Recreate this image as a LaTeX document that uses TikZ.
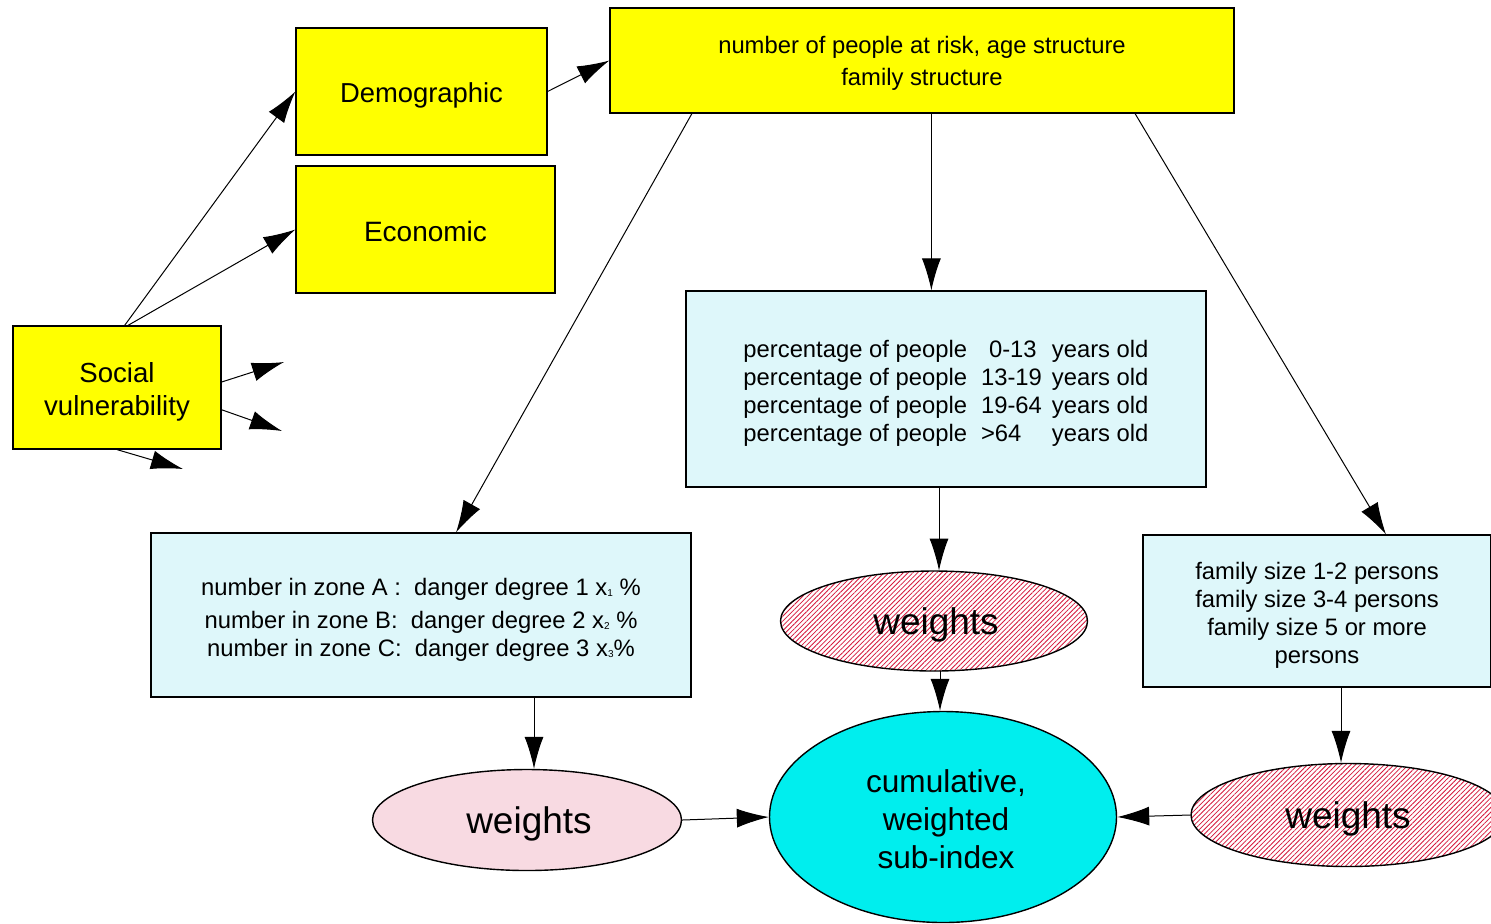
\documentclass[tikz,border=0pt]{standalone}
\usepackage{fontspec}
\setmainfont{Liberation Sans}
\usetikzlibrary{arrows.meta,shapes.geometric,patterns.meta}
\definecolor{boxyellow}{RGB}{255,255,0}
\definecolor{paleblue}{RGB}{222,247,250}
\definecolor{palepink}{RGB}{248,218,226}
\definecolor{hatchred}{RGB}{214,24,60}
\definecolor{aqua}{RGB}{0,238,238}
\newcommand{\sub}[1]{\raisebox{-0.6pt}{\fontsize{5}{5}\selectfont #1}}

\begin{document}
\begin{tikzpicture}[x=0.5pt,y=-0.5pt,
  ybox/.style={rectangle,draw,line width=0.6pt,fill=boxyellow,inner sep=0pt},
  bbox/.style={rectangle,draw,line width=0.6pt,fill=paleblue,inner sep=0pt},
  wt/.style={ellipse,draw,line width=0.7pt,inner sep=0pt},
  hatched/.style={wt,pattern={Lines[angle=45,distance=1.7pt,line width=0.4pt]},pattern color=hatchred},
  lbl/.style={align=center,inner sep=0pt},
  small/.style={lbl,font=\fontsize{11.9}{14}\selectfont},
  wlbl/.style={lbl,font=\fontsize{18.5}{22}\selectfont},
  arr/.style={-{Latex[length=16pt,width=9.5pt]},line width=0.5pt}
]
\fill[white] (0,0) rectangle (1491,923);
\useasboundingbox (0,0) rectangle (1491,923);

% yellow category boxes
\node[ybox,minimum width=125.5pt,minimum height=63.5pt] (demo) at (421.5,91.5) {};
\node[lbl,font=\fontsize{13.7}{16}\selectfont] (demo-t) at ([yshift=-2pt]demo.center) {Demographic};
\node[ybox,minimum width=129.5pt,minimum height=63.5pt] (econ) at (425.5,229.5) {};
\node[lbl,font=\fontsize{14}{16}\selectfont] (econ-t) at ([yshift=-1pt]econ.center) {Economic};
\node[ybox,minimum width=104pt,minimum height=61.5pt] (social) at (117,387.5) {};
\node[lbl,font=\fontsize{13.8}{16.5}\selectfont] (social-t) at ([yshift=-2pt]social.center)
  {Social\\vulnerability};
\node[ybox,minimum width=312pt,minimum height=52.5pt] (top) at (922,60.5) {};
\node[lbl,font=\fontsize{11.9}{16}\selectfont] (top-t) at ([yshift=-1.5pt]top.center)
  {number of people at risk, age structure\\family structure};

% indicator boxes
\node[bbox,minimum width=260pt,minimum height=98pt] (mbox) at (946,389) {};
\node[small] (mbox-t) at ([yshift=-2.5pt]mbox.center)
  {\begin{tabular}{@{}l@{\hspace{7pt}}l@{\hspace{5pt}}l@{}}
   percentage of people & \hspace*{4pt}0-13 & years old\\
   percentage of people & 13-19 & years old\\
   percentage of people & 19-64 & years old\\
   percentage of people & >64 & years old
   \end{tabular}};
\node[bbox,minimum width=270pt,minimum height=82pt] (lbox) at (421,615) {};
\node[small] (lbox-t) at ([yshift=-2.5pt]lbox.center)
  {number in zone A :\ \ danger degree 1 x\sub{1} \%\\[2.5pt]
   number in zone B:\ \ danger degree 2 x\sub{2} \%\\
   number in zone C:\ \ danger degree 3 x\sub{3}\%};
\node[bbox,minimum width=174pt,minimum height=76pt] (rbox) at (1317,611) {};
\node[small] (rbox-t) at ([yshift=-2pt]rbox.center)
  {family size 1-2 persons\\family size 3-4 persons\\family size 5 or more\\persons};

% weights and the sub-index
\node[hatched,minimum width=153.5pt,minimum height=50pt] (mw) at (934,621) {};
\node[wlbl] (mw-t) at ([xshift=1pt,yshift=-2pt]mw.center) {weights};
\node[wt,fill=palepink,minimum width=154.5pt,minimum height=50.5pt] (lw) at (527,820) {};
\node[wlbl] (lw-t) at ([xshift=1pt,yshift=-2pt]lw.center) {weights};
\node[hatched,minimum width=157pt,minimum height=51.5pt] (rw) at (1348,815) {};
\node[wlbl] (rw-t) at ([yshift=-2pt]rw.center) {weights};
\node[wt,fill=aqua,minimum width=173.5pt,minimum height=105.5pt] (cum) at (943,817) {};
\node[lbl,font=\fontsize{15.8}{19}\selectfont] (cum-t) at ([xshift=1.5pt,yshift=-1pt]cum.center)
  {cumulative,\\weighted\\sub-index};

% loose ends of the social arrows
\coordinate (s1) at (284,362);
\coordinate (s2) at (282,431);
\coordinate (s3) at (183,469);

% connectors
\draw[arr] (demo.east) -- (top.west);
\draw[arr] (social.83) -- (demo.west);
\draw[arr] (social.80) -- (econ.west);
\draw[arr] (social.3) -- (s1);
\draw[arr] (social.-12.2) -- (s2);
\draw[arr] (social.south) -- (s3);
\draw[arr] (top.193.2) -- (lbox.67.5);
\draw[arr] (top.-80.3) -- (top.-80.3 |- mbox.north);
\draw[arr] (top.-14.1) -- (rbox.48.6);
\draw[arr] ([xshift=2.5pt]mbox.south -| mw.north) -- ([xshift=2.5pt]mw.north);
\draw[arr] ([xshift=3pt]mw.south) -- ([xshift=3pt]mw.south |- cum.north);
\draw[arr] ([xshift=3.5pt]lbox.south -| lw.north) -- ([xshift=3.5pt]lw.north);
\draw[arr] (lw.east) -- (cum.west);
\draw[arr] ([xshift=-3.5pt]rbox.south -| rw.north) -- ([xshift=-3.5pt]rw.north);
\draw[arr] (rw.west) -- (cum.east);
\end{tikzpicture}
\end{document}
